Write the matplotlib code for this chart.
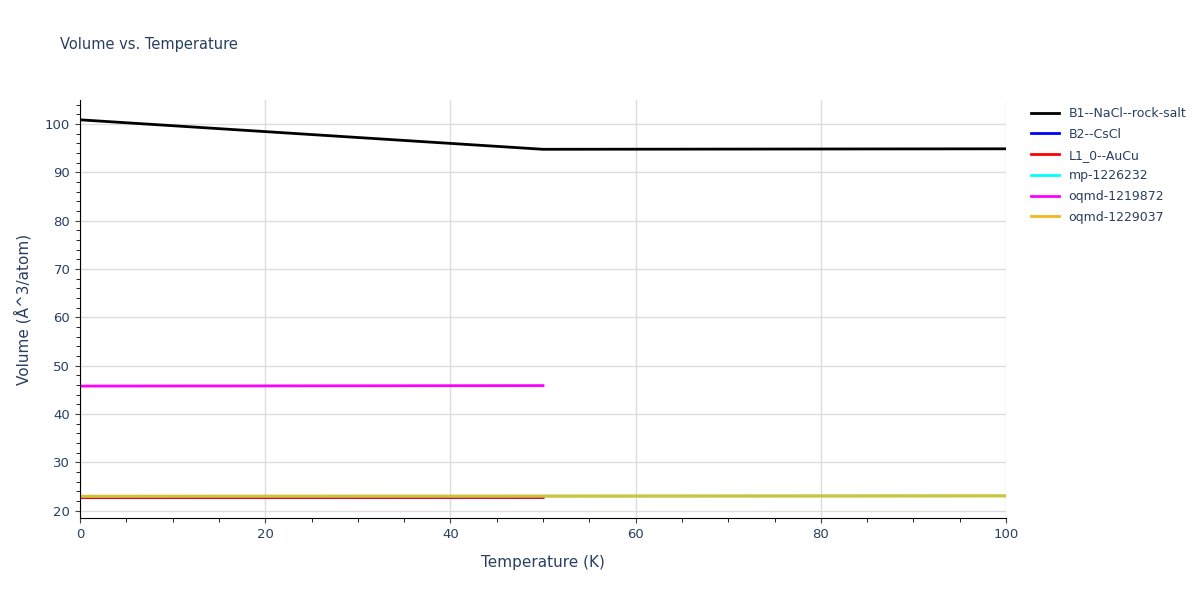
import matplotlib.pyplot as plt
from matplotlib.ticker import MultipleLocator

temps_full = [0, 50, 100]
temps_half = [0, 50]

b1_vol = [100.9, 94.8, 94.9]
b2_vol = [22.75, 22.78]
l10_vol = [22.75, 22.78]
mp_vol = [23.0, 23.03, 23.08]
oqmd1219872_vol = [45.8, 45.9]
oqmd1229037_vol = [23.0, 23.03, 23.08]

series = [
    ("B1--NaCl--rock-salt", temps_full, b1_vol, "black"),
    ("B2--CsCl", temps_half, b2_vol, "blue"),
    ("L1_0--AuCu", temps_half, l10_vol, "red"),
    ("mp-1226232", temps_full, mp_vol, "cyan"),
    ("oqmd-1219872", temps_half, oqmd1219872_vol, "magenta"),
    ("oqmd-1229037", temps_full, oqmd1229037_vol, "#ecb920"),
]

fig = plt.figure(figsize=(12, 6), dpi=100)
ax = fig.add_axes([80 / 1200, 82 / 600, 926 / 1200, 418 / 600])
for name, x, y, c in series:
    ax.plot(x, y, color=c, lw=2, label=name)

ax.set_xlim(0, 100)
ax.set_ylim(18.5, 105)
ax.xaxis.set_major_locator(MultipleLocator(20))
ax.xaxis.set_minor_locator(MultipleLocator(5))
ax.yaxis.set_major_locator(MultipleLocator(10))
ax.yaxis.set_minor_locator(MultipleLocator(2))
ax.grid(True, which="major", color="#dddddd", lw=1)
for s in ["top", "right"]:
    ax.spines[s].set_visible(False)
ax.tick_params(colors="#444444", labelcolor="#2a3f5f", labelsize=9.5)
ax.tick_params(which="minor", length=3)
ax.set_xlabel("Temperature (K)", color="#2a3f5f", fontsize=11, labelpad=10)
ax.set_ylabel("Volume (Å^3/atom)", color="#2a3f5f", fontsize=11, labelpad=10)
fig.text(60 / 1200, 1 - 45 / 600, "Volume vs. Temperature", color="#2a3f5f",
         fontsize=10.5, va="center")
leg = ax.legend(loc="upper left", bbox_to_anchor=(1.015, 1.01), frameon=False,
                fontsize=9, handlelength=2.2, labelspacing=0.62)
for t in leg.get_texts():
    t.set_color("#2a3f5f")

fig.savefig("out.png")
